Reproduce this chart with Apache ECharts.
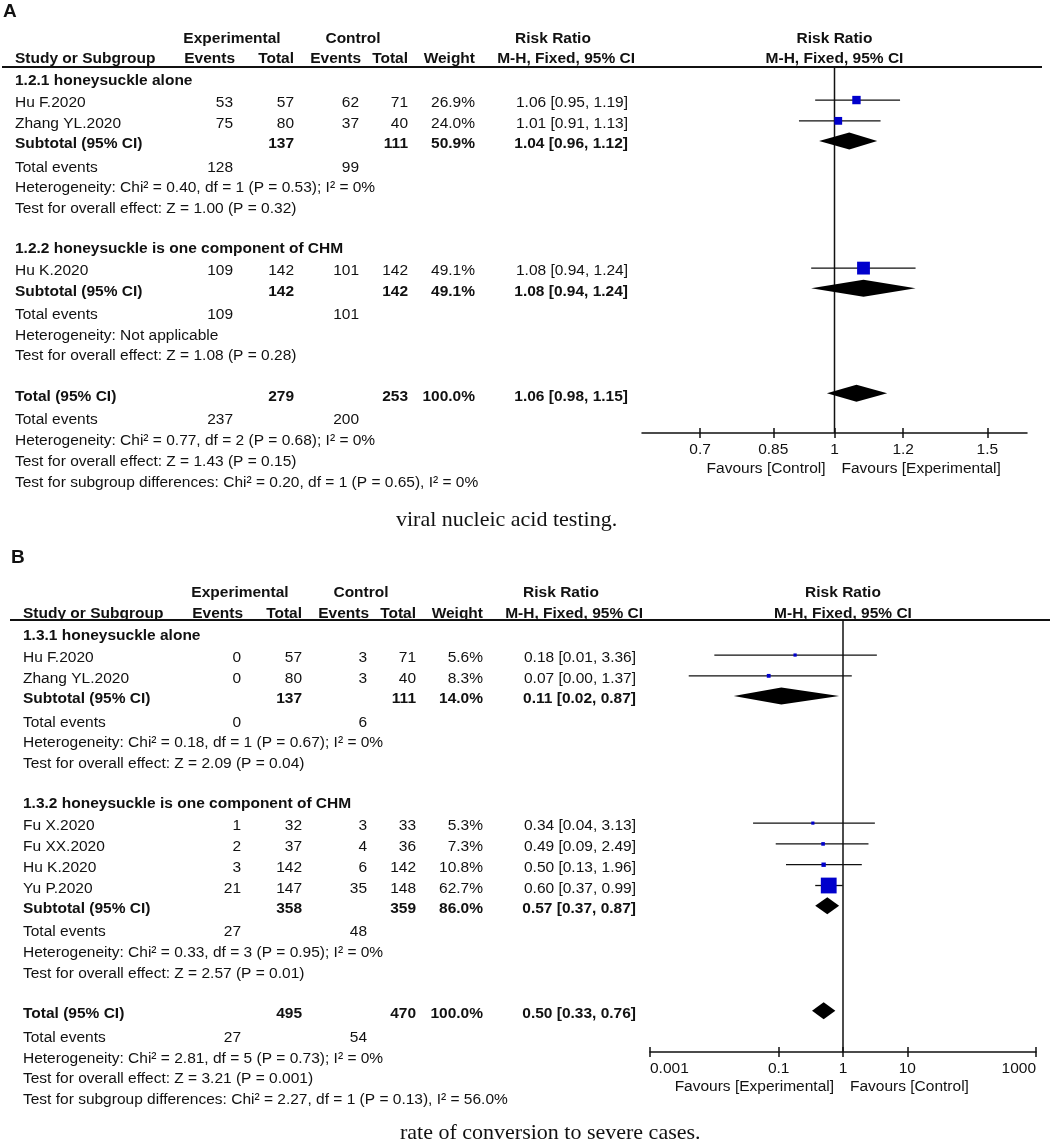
<!DOCTYPE html>
<html><head><meta charset="utf-8">
<script src="https://cdn.jsdelivr.net/npm/echarts@6/dist/echarts.min.js"></script>
<style>html,body{margin:0;padding:0;background:#fff}#c{width:1052px;height:1144px}</style>
</head><body><div id="c"></div>
<script>
// ================= Panel A data =================
const studiesA   = ['Hu F.2020', 'Zhang YL.2020', 'Hu K.2020'];
const groupOfA   = [0, 0, 1];
const expEventsA = [53, 75, 109];
const expTotalA  = [57, 80, 142];
const ctlEventsA = [62, 37, 101];
const ctlTotalA  = [71, 40, 142];
const weightA    = [26.9, 24.0, 49.1];
const rrA        = [1.06, 1.01, 1.08];
const lowA       = [0.95, 0.91, 0.94];
const highA      = [1.19, 1.13, 1.24];
const groupNamesA   = ['1.2.1 honeysuckle alone', '1.2.2 honeysuckle is one component of CHM'];
const subExpTotalA  = [137, 142];
const subCtlTotalA  = [111, 142];
const subWeightA    = [50.9, 49.1];
const subRrA        = [1.04, 1.08];
const subLowA       = [0.96, 0.94];
const subHighA      = [1.12, 1.24];
const subExpEventsA = [128, 109];
const subCtlEventsA = [99, 101];
const subHetA  = ['Heterogeneity: Chi² = 0.40, df = 1 (P = 0.53); I² = 0%', 'Heterogeneity: Not applicable'];
const subTestA = ['Test for overall effect: Z = 1.00 (P = 0.32)', 'Test for overall effect: Z = 1.08 (P = 0.28)'];
const totTotalsA = [279, 253];
const totEventsA = [237, 200];
const totWeightA = 100.0;
const totCiA     = [1.06, 0.98, 1.15];
const totHetA    = 'Heterogeneity: Chi² = 0.77, df = 2 (P = 0.68); I² = 0%';
const totTestA   = 'Test for overall effect: Z = 1.43 (P = 0.15)';
const subDiffA   = 'Test for subgroup differences: Chi² = 0.20, df = 1 (P = 0.65), I² = 0%';
const ticksA     = [0.7, 0.85, 1, 1.2, 1.5];
const tickLabelsA = ['0.7', '0.85', '1', '1.2', '1.5'];
const favoursA   = ['Favours [Control]', 'Favours [Experimental]'];
const captionA   = 'viral nucleic acid testing.';

// ================= Panel B data =================
const studiesB   = ['Hu F.2020', 'Zhang YL.2020', 'Fu X.2020', 'Fu XX.2020', 'Hu K.2020', 'Yu P.2020'];
const groupOfB   = [0, 0, 1, 1, 1, 1];
const expEventsB = [0, 0, 1, 2, 3, 21];
const expTotalB  = [57, 80, 32, 37, 142, 147];
const ctlEventsB = [3, 3, 3, 4, 6, 35];
const ctlTotalB  = [71, 40, 33, 36, 142, 148];
const weightB    = [5.6, 8.3, 5.3, 7.3, 10.8, 62.7];
const rrB        = [0.18, 0.07, 0.34, 0.49, 0.50, 0.60];
const lowB       = [0.01, 0.004, 0.04, 0.09, 0.13, 0.37];
const highB      = [3.36, 1.37, 3.13, 2.49, 1.96, 0.99];
const groupNamesB   = ['1.3.1 honeysuckle alone', '1.3.2 honeysuckle is one component of CHM'];
const subExpTotalB  = [137, 358];
const subCtlTotalB  = [111, 359];
const subWeightB    = [14.0, 86.0];
const subRrB        = [0.11, 0.57];
const subLowB       = [0.02, 0.37];
const subHighB      = [0.87, 0.87];
const subExpEventsB = [0, 27];
const subCtlEventsB = [6, 48];
const subHetB  = ['Heterogeneity: Chi² = 0.18, df = 1 (P = 0.67); I² = 0%', 'Heterogeneity: Chi² = 0.33, df = 3 (P = 0.95); I² = 0%'];
const subTestB = ['Test for overall effect: Z = 2.09 (P = 0.04)', 'Test for overall effect: Z = 2.57 (P = 0.01)'];
const totTotalsB = [495, 470];
const totEventsB = [27, 54];
const totWeightB = 100.0;
const totCiB     = [0.50, 0.33, 0.76];
const totHetB    = 'Heterogeneity: Chi² = 2.81, df = 5 (P = 0.73); I² = 0%';
const totTestB   = 'Test for overall effect: Z = 3.21 (P = 0.001)';
const subDiffB   = 'Test for subgroup differences: Chi² = 2.27, df = 1 (P = 0.13), I² = 56.0%';
const ticksB     = [0.001, 0.1, 1, 10, 1000];
const tickLabelsB = ['0.001', '0.1', '1', '10', '1000'];
const favoursB   = ['Favours [Experimental]', 'Favours [Control]'];
const captionB   = 'rate of conversion to severe cases.';

const headerTop = ['Experimental', 'Control', 'Risk Ratio'];
const headerCols = ['Study or Subgroup', 'Events', 'Total', 'Events', 'Total', 'Weight', 'M-H, Fixed, 95% CI'];

// ================= layout / style =================
const FONT = '"Liberation Sans", Arial, Helvetica, sans-serif';
const SERIF = '"Liberation Serif", "Times New Roman", serif';
const FS = 15.5;
const INK = '#111';
const U = 20.8; // px per row unit

function f2(v) { return v.toFixed(2); }
function ciText(r, l, h) { return f2(r) + ' [' + f2(l) + ', ' + f2(h) + ']'; }
function pct(w) { return w.toFixed(1) + '%'; }

function buildPanel(d) {
  const rows = [];
  let p = 0;
  for (let g = 0; g < 2; g++) {
    if (g > 0) p += 1.93;
    rows.push({kind: 'heading', pos: p, text: d.groupNames[g]});
    p += 1.06;
    let first = true;
    for (let i = 0; i < d.studies.length; i++) {
      if (d.groupOf[i] !== g) continue;
      if (!first) p += 1.0;
      first = false;
      rows.push({kind: 'study', pos: p, i: i,
        cells: [d.studies[i], d.expEvents[i], d.expTotal[i], d.ctlEvents[i], d.ctlTotal[i], pct(d.weight[i]), ciText(d.rr[i], d.low[i], d.high[i])],
        rr: d.rr[i], low: d.low[i], high: d.high[i], w: d.weight[i]});
    }
    p += 0.97;
    rows.push({kind: 'sub', pos: p,
      cells: ['Subtotal (95% CI)', '', d.subExpTotal[g], '', d.subCtlTotal[g], pct(d.subWeight[g]), ciText(d.subRr[g], d.subLow[g], d.subHigh[g])],
      rr: d.subRr[g], low: d.subLow[g], high: d.subHigh[g]});
    p += 1.12;
    rows.push({kind: 'events', pos: p, cells: ['Total events', d.subExpEvents[g], '', d.subCtlEvents[g]]});
    p += 1.0; rows.push({kind: 'note', pos: p, text: d.subHet[g]});
    p += 1.0; rows.push({kind: 'note', pos: p, text: d.subTest[g]});
  }
  p += 1.93;
  rows.push({kind: 'sub', pos: p,
    cells: ['Total (95% CI)', '', d.totTotals[0], '', d.totTotals[1], pct(d.totWeight), ciText(d.totCi[0], d.totCi[1], d.totCi[2])],
    rr: d.totCi[0], low: d.totCi[1], high: d.totCi[2]});
  p += 1.14; rows.push({kind: 'events', pos: p, cells: ['Total events', d.totEvents[0], '', d.totEvents[1]]});
  p += 1.0; rows.push({kind: 'note', pos: p, text: d.totHet});
  p += 1.0; rows.push({kind: 'note', pos: p, text: d.totTest});
  p += 1.0; rows.push({kind: 'note', pos: p, text: d.subDiff});
  return rows;
}

const panels = [
  {
    letter: 'A', dx: 0, row0: 81, gridTop: 67, gridBottom: 433, gridLeft: 642, gridWidth: 385,
    xmin: 0.6, xmax: 1 / 0.6, ticks: ticksA, tickLabels: tickLabelsA, favours: favoursA, endAlign: ['center', 'center'],
    caption: captionA, captionX: 396, captionY: 520, letterY: 12, head1Y: 39, head2Y: 59, favY: 469,
    studies: studiesA, groupOf: groupOfA, expEvents: expEventsA, expTotal: expTotalA, ctlEvents: ctlEventsA,
    ctlTotal: ctlTotalA, weight: weightA, rr: rrA, low: lowA, high: highA, groupNames: groupNamesA,
    subExpTotal: subExpTotalA, subCtlTotal: subCtlTotalA, subWeight: subWeightA, subRr: subRrA, subLow: subLowA,
    subHigh: subHighA, subExpEvents: subExpEventsA, subCtlEvents: subCtlEventsA, subHet: subHetA, subTest: subTestA,
    totTotals: totTotalsA, totEvents: totEventsA, totWeight: totWeightA, totCi: totCiA, totHet: totHetA,
    totTest: totTestA, subDiff: subDiffA, sizeA: 3, sizeB: 0.2
  },
  {
    letter: 'B', dx: 8, row0: 636, gridTop: 620, gridBottom: 1052, gridLeft: 650, gridWidth: 386,
    xmin: 0.001, xmax: 1000, ticks: ticksB, tickLabels: tickLabelsB, favours: favoursB, endAlign: ['left', 'right'],
    caption: captionB, captionX: 400, captionY: 1133, letterY: 558, head1Y: 593, head2Y: 614, favY: 1087,
    studies: studiesB, groupOf: groupOfB, expEvents: expEventsB, expTotal: expTotalB, ctlEvents: ctlEventsB,
    ctlTotal: ctlTotalB, weight: weightB, rr: rrB, low: lowB, high: highB, groupNames: groupNamesB,
    subExpTotal: subExpTotalB, subCtlTotal: subCtlTotalB, subWeight: subWeightB, subRr: subRrB, subLow: subLowB,
    subHigh: subHighB, subExpEvents: subExpEventsB, subCtlEvents: subCtlEventsB, subHet: subHetB, subTest: subTestB,
    totTotals: totTotalsB, totEvents: totEventsB, totWeight: totWeightB, totCi: totCiB, totHet: totHetB,
    totTest: totTestB, subDiff: subDiffB, sizeA: 2, sizeB: 0.22
  }
];

// column anchors for panel A (panel B shifted by dx)
const COLS = {study: 15, expEv: 233, expTot: 294, ctlEv: 359, ctlTot: 408, weight: 475, rr: 628, rrHead: 635,
              expHeadC: 232, ctlHeadC: 353, rrHeadC: 553, lineL: 2, lineR: 1042};

function txt(x, y, s, align, bold, size, family) {
  return {type: 'text', x: x, y: y, silent: true,
    style: {text: String(s), fill: INK, fontSize: size || FS, fontFamily: family || FONT,
            fontWeight: bold ? 'bold' : 'normal', align: align || 'left', verticalAlign: 'middle'}};
}

const grids = [], xAxes = [], yAxes = [], series = [];
panels.forEach((P, k) => {
  const rows = buildPanel(P);
  P.rows = rows;
  const yPos = px => (px - P.row0) / U;
  grids.push({left: P.gridLeft, width: P.gridWidth, top: P.gridTop, height: P.gridBottom - P.gridTop});
  const axBase = {type: 'log', logBase: 10, gridIndex: k, min: P.xmin, max: P.xmax, position: 'bottom',
    splitLine: {show: false}, axisLine: {show: true, onZero: false, lineStyle: {color: INK, width: 1.5}}};
  xAxes.push(Object.assign({}, axBase, {
    axisTick: {show: true, inside: false, length: 5, customValues: P.ticks, lineStyle: {color: INK, width: 1.5}},
    axisLabel: {show: true, customValues: P.ticks, margin: 9, color: INK, fontSize: FS, fontFamily: FONT,
      alignMinLabel: P.endAlign[0], alignMaxLabel: P.endAlign[1],
      formatter: v => { const j = P.ticks.findIndex(t => Math.abs(Math.log10(t) - Math.log10(v)) < 1e-6); return j >= 0 ? P.tickLabels[j] : ''; }}
  }));
  xAxes.push(Object.assign({}, axBase, {
    axisLine: {show: false, onZero: false},
    axisTick: {show: true, inside: true, length: 5, customValues: P.ticks, lineStyle: {color: INK, width: 1.5}},
    axisLabel: {show: false}
  }));
  const yMin = yPos(P.gridTop), yMax = yPos(P.gridBottom);
  yAxes.push({type: 'value', gridIndex: k, inverse: true, min: yMin, max: yMax, show: false});
  const xi = k * 2, yi = k;

  // null line at RR = 1
  series.push({type: 'line', xAxisIndex: xi, yAxisIndex: yi, data: [[1, yMin], [1, yMax]], symbol: 'none',
    lineStyle: {color: INK, width: 1.5}, silent: true, z: 2});

  // study CIs and squares
  const studyRows = rows.filter(r => r.kind === 'study');
  series.push({type: 'custom', xAxisIndex: xi, yAxisIndex: yi, clip: false, silent: true, z: 3,
    data: studyRows.map(r => [r.rr, r.pos, r.low, r.high, r.w]),
    renderItem: (params, api) => {
      const c = api.coord([api.value(0), api.value(1)]);
      const l = api.coord([api.value(2), api.value(1)]);
      const h = api.coord([api.value(3), api.value(1)]);
      const y = c[1] - 3;
      const s = P.sizeA + P.sizeB * api.value(4);
      return {type: 'group', children: [
        {type: 'line', shape: {x1: l[0], y1: y, x2: h[0], y2: y}, style: {stroke: INK, lineWidth: 1.3}},
        {type: 'rect', shape: {x: c[0] - s / 2, y: y - s / 2, width: s, height: s}, style: {fill: '#0000CC'}}
      ]};
    }});

  // diamonds
  const subRows = rows.filter(r => r.kind === 'sub');
  series.push({type: 'custom', xAxisIndex: xi, yAxisIndex: yi, clip: false, silent: true, z: 3,
    data: subRows.map(r => [r.rr, r.pos, r.low, r.high]),
    renderItem: (params, api) => {
      const c = api.coord([api.value(0), api.value(1)]);
      const l = api.coord([api.value(2), api.value(1)]);
      const h = api.coord([api.value(3), api.value(1)]);
      const y = c[1] - 3, hh = 8.5;
      return {type: 'polygon', shape: {points: [[l[0], y], [c[0], y - hh], [h[0], y], [c[0], y + hh]]},
        style: {fill: '#000'}};
    }});

  // table text (rows), headers, caption, favours
  const dx = P.dx;
  series.push({type: 'custom', xAxisIndex: xi, yAxisIndex: yi, clip: false, silent: true, z: 5,
    data: rows.map(r => [1, r.pos]).concat([[1, yPos(P.head1Y)]]),
    renderItem: (params, api) => {
      const idx = params.dataIndex;
      const y = api.coord([1, api.value(1)])[1];
      const cx = api.coord([1, api.value(1)])[0];
      if (idx === rows.length) {
        const y2 = y + (P.head2Y - P.head1Y);
        const yl = api.coord([1, yPos(P.gridTop)])[1];
        const yf = api.coord([1, yPos(P.favY)])[1];
        const yL = api.coord([1, yPos(P.letterY)])[1];
        const yC = api.coord([1, yPos(P.captionY)])[1];
        return {type: 'group', children: [
          txt(3 + dx, yL, P.letter, 'left', true, 19),
          txt(COLS.expHeadC + dx, y, headerTop[0], 'center', true),
          txt(COLS.ctlHeadC + dx, y, headerTop[1], 'center', true),
          txt(COLS.rrHeadC + dx, y, headerTop[2], 'center', true),
          txt(cx, y, headerTop[2], 'center', true),
          txt(COLS.study + dx, y2, headerCols[0], 'left', true),
          txt(COLS.expEv + dx + 2, y2, headerCols[1], 'right', true),
          txt(COLS.expTot + dx, y2, headerCols[2], 'right', true),
          txt(COLS.ctlEv + dx + 2, y2, headerCols[3], 'right', true),
          txt(COLS.ctlTot + dx, y2, headerCols[4], 'right', true),
          txt(COLS.weight + dx, y2, headerCols[5], 'right', true),
          txt(COLS.rrHead + dx, y2, headerCols[6], 'right', true),
          txt(cx, y2, headerCols[6], 'center', true),
          {type: 'line', shape: {x1: COLS.lineL + dx, y1: yl, x2: COLS.lineR + dx, y2: yl}, style: {stroke: INK, lineWidth: 1.8}},
          txt(cx - 9, yf, P.favours[0], 'right', false),
          txt(cx + 7, yf, P.favours[1], 'left', false),
          txt(P.captionX, yC, P.caption, 'left', false, 22, SERIF)
        ]};
      }
      const r = rows[idx];
      const ch = [];
      if (r.kind === 'heading') ch.push(txt(COLS.study + dx, y, r.text, 'left', true));
      else if (r.kind === 'note') ch.push(txt(COLS.study + dx, y, r.text, 'left', false));
      else {
        const b = r.kind === 'sub';
        const keys = ['study', 'expEv', 'expTot', 'ctlEv', 'ctlTot', 'weight', 'rr'];
        r.cells.forEach((v, j) => {
          if (v === '' || v === undefined) return;
          ch.push(txt(COLS[keys[j]] + dx, y, v, j === 0 ? 'left' : 'right', b));
        });
      }
      return {type: 'group', children: ch};
    }});
});

const chart = echarts.init(document.getElementById('c'), null, {renderer: 'canvas'});
chart.setOption({
  animation: false,
  backgroundColor: '#fff',
  grid: grids, xAxis: xAxes, yAxis: yAxes, series: series
});
</script>
</body></html>
